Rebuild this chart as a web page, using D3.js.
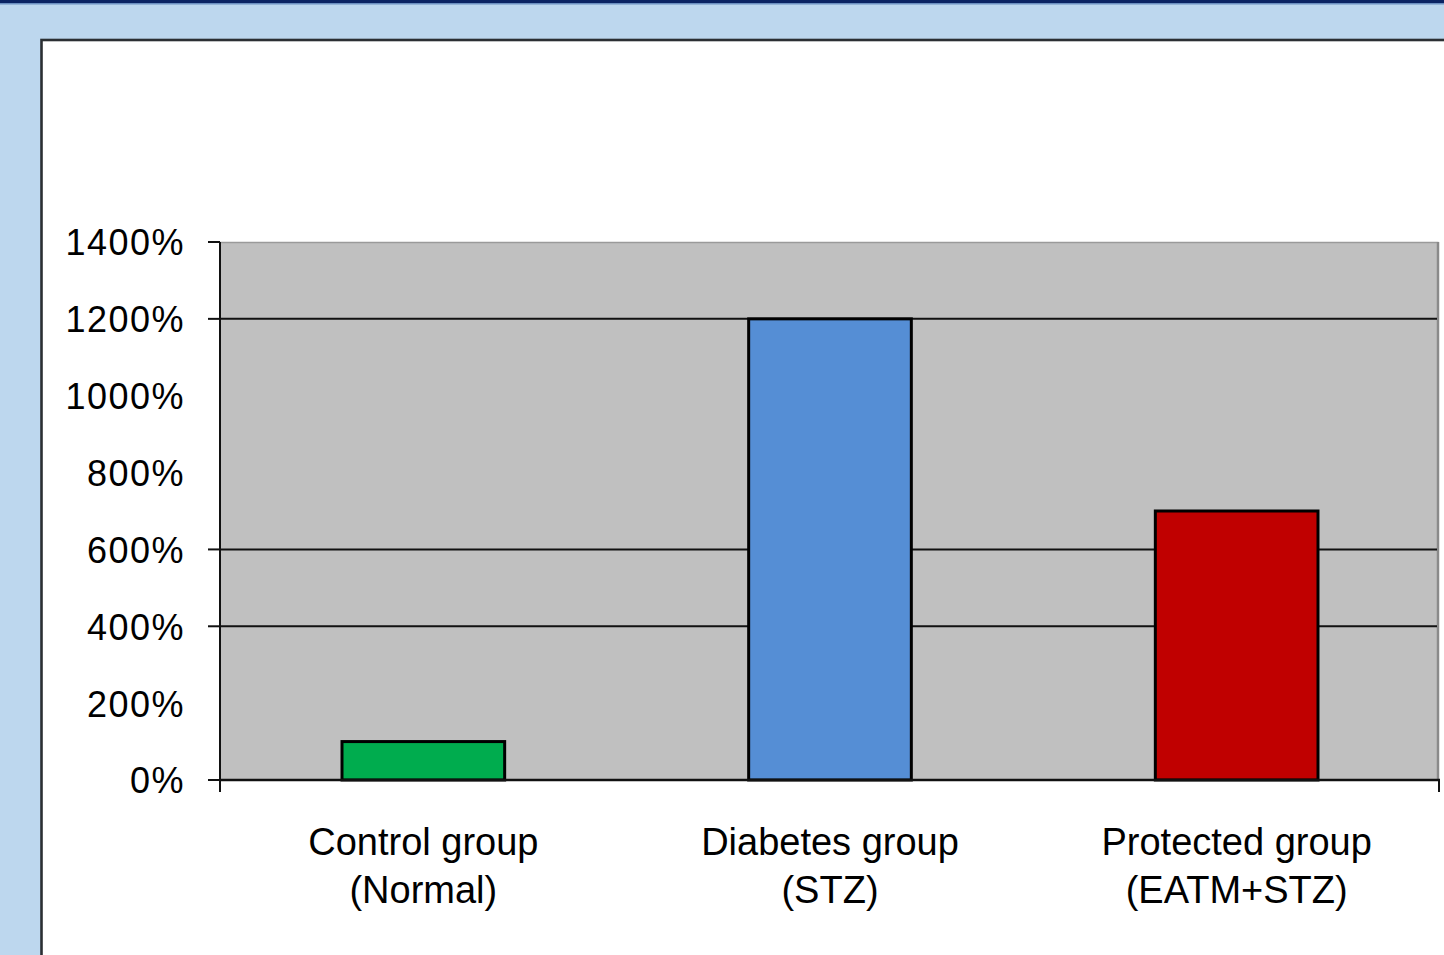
<!DOCTYPE html>
<html>
<head>
<meta charset="utf-8">
<script src="https://cdn.jsdelivr.net/npm/d3@7/dist/d3.min.js"></script>
<style>
  html, body { margin: 0; padding: 0; background: #bdd7ee; }
  svg { display: block; }
  text { font-family: "Liberation Sans", Arial, sans-serif; fill: #000; }
</style>
</head>
<body>
<svg id="chart" width="1444" height="955"></svg>
<script>
// Groups, their relative values (%), and bar colours
const categories = ["Control group|(Normal)", "Diabetes group|(STZ)", "Protected group|(EATM+STZ)"];
const values = [100, 1200, 700];
const barColors = ["#00ac4e", "#558ed5", "#c00000"];
// Y axis labels, the horizontal rules and the tick marks drawn on the axis
const yTickLabels = [0, 200, 400, 600, 800, 1000, 1200, 1400];
const gridValues = [400, 600, 1200];
const tickMarkValues = [0, 400, 600, 1200, 1400];

const svg = d3.select("#chart");
const W = 1444, H = 955;

// window background and top band
svg.append("rect").attr("x", 0).attr("y", 0).attr("width", W).attr("height", H).attr("fill", "#bdd7ee");
svg.append("rect").attr("x", 0).attr("y", 0).attr("width", W).attr("height", 3).attr("fill", "#0b2463");
svg.append("rect").attr("x", 0).attr("y", 3).attr("width", W).attr("height", 1.5).attr("fill", "#6b8fc0");

// white slide panel
svg.append("rect").attr("x", 41.5).attr("y", 40).attr("width", W).attr("height", H)
  .attr("fill", "#fff").attr("stroke", "#2b2f33").attr("stroke-width", 2.6);

const plot = { left: 220, right: 1437, top: 242, bottom: 780 };

const x = d3.scaleBand().domain(categories).range([plot.left, 1440])
  .paddingInner(0.6).paddingOuter(0.3);
const y = d3.scaleLinear().domain([0, 1400]).range([plot.bottom, plot.top]);

// plot area
svg.append("rect").attr("x", plot.left).attr("y", plot.top)
  .attr("width", plot.right - plot.left).attr("height", plot.bottom - plot.top)
  .attr("fill", "#c0c0c0");
svg.append("line").attr("x1", plot.left).attr("x2", plot.right + 1.5)
  .attr("y1", plot.top + 0.5).attr("y2", plot.top + 0.5)
  .attr("stroke", "#9a9a9a").attr("stroke-width", 1.5);
svg.append("line").attr("x1", plot.right + 1).attr("x2", plot.right + 1)
  .attr("y1", plot.top).attr("y2", plot.bottom)
  .attr("stroke", "#8a8a8a").attr("stroke-width", 2.5);

// horizontal rules
svg.append("g").selectAll("line").data(gridValues).join("line")
  .attr("x1", plot.left).attr("x2", plot.right)
  .attr("y1", d => y(d)).attr("y2", d => y(d))
  .attr("stroke", "#111").attr("stroke-width", 2);

// bars
svg.append("g").selectAll("rect").data(values).join("rect")
  .attr("x", (d, i) => x(categories[i]))
  .attr("y", d => y(d))
  .attr("width", x.bandwidth())
  .attr("height", d => y(0) - y(d))
  .attr("fill", (d, i) => barColors[i])
  .attr("stroke", "#000").attr("stroke-width", 3);

// y axis
const yAxis = d3.axisLeft(y).tickValues(yTickLabels).tickSize(0).tickPadding(0)
  .tickFormat(d => d + "%");
const gy = svg.append("g").attr("transform", `translate(${plot.left},0)`).call(yAxis);
gy.select(".domain").remove();
gy.selectAll("text")
  .attr("x", -35).attr("dy", "0.36em")
  .style("font-size", "36px")
  .style("letter-spacing", "1.5px")
  .style("font-family", '"Liberation Sans", Arial, sans-serif')
  .attr("fill", "#000");
svg.append("g").selectAll("line").data(tickMarkValues).join("line")
  .attr("x1", plot.left - 12).attr("x2", plot.left)
  .attr("y1", d => y(d)).attr("y2", d => y(d))
  .attr("stroke", "#111").attr("stroke-width", 2);
svg.append("line").attr("x1", plot.left).attr("x2", plot.left)
  .attr("y1", plot.top).attr("y2", plot.bottom + 12)
  .attr("stroke", "#111").attr("stroke-width", 2);

// x axis
svg.append("line").attr("x1", plot.left).attr("x2", 1440)
  .attr("y1", plot.bottom).attr("y2", plot.bottom)
  .attr("stroke", "#111").attr("stroke-width", 2.5);
svg.append("line").attr("x1", 1439).attr("x2", 1439)
  .attr("y1", plot.bottom).attr("y2", plot.bottom + 12)
  .attr("stroke", "#111").attr("stroke-width", 2);

// category labels, two lines each
const labels = svg.append("g").selectAll("text").data(categories).join("text")
  .attr("text-anchor", "middle")
  .style("font-size", "38px");
labels.each(function (d) {
  const cx = x(d) + x.bandwidth() / 2;
  const parts = d.split("|");
  d3.select(this).selectAll("tspan").data(parts).join("tspan")
    .attr("x", cx)
    .attr("y", (p, j) => 855 + j * 48)
    .text(p => p);
});
</script>
</body>
</html>
